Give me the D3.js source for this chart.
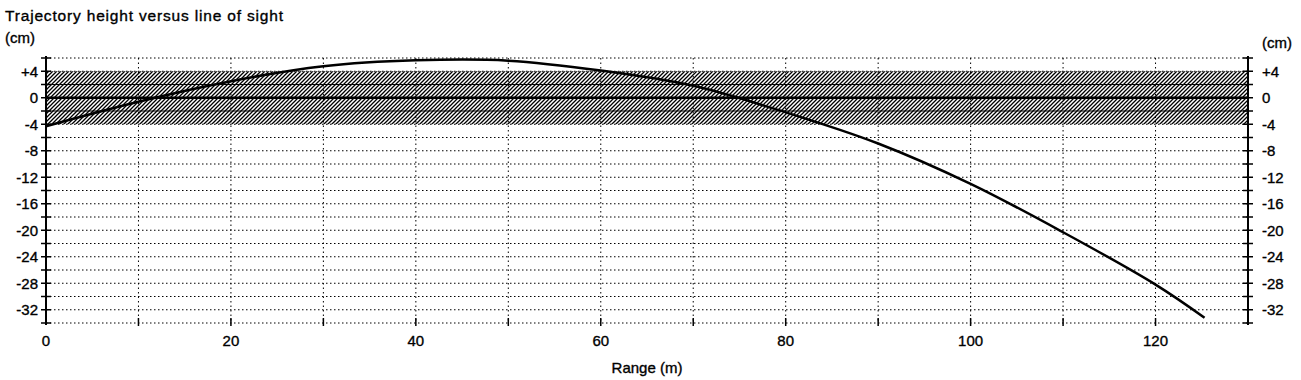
<!DOCTYPE html>
<html>
<head>
<meta charset="utf-8">
<script src="https://cdn.jsdelivr.net/npm/d3@7"></script>
<style>
    body { margin: 0; background: #fff; }
    svg { display: block; font-family: "Liberation Sans", Arial, sans-serif; }
    /* the scanned original has heavy, slightly blurred type */
    .label { fill: #000; stroke: #000; stroke-width: 0.35px; font-size: 15px; }
</style>
</head>
<body>
<div id="chart"></div>
<script>
// Trajectory values (range in m, height in cm)
const rangeValues = [0, 10, 20, 30, 40, 50, 60, 70, 80, 90, 100, 110, 120, 125.3];
const heightValues = [-4.3, -0.6, 2.5, 4.75, 5.65, 5.6, 4.1, 1.8, -2.2, -6.9, -13.0, -20.3, -28.2, -33.2];

// Tick labels
const xTickLabels = [0, 20, 40, 60, 80, 100, 120];
const yTickLabels = [4, 0, -4, -8, -12, -16, -20, -24, -28, -32];

// Tolerance band around the line of sight
const bandLimits = [4, -4];

const width = 1301;
const height = 380;

const svg = d3.select('#chart')
    .append('svg')
    .attr('width', width)
    .attr('height', height);

// Scales
const x = d3.scaleLinear().domain([0, 130]).range([46, 1248]);
const y = d3.scaleLinear().domain([6, -34]).range([58, 323]);

// Hatch pattern for the band
const defs = svg.append('defs');
defs.append('pattern')
    .attr('id', 'hatch')
    .attr('patternUnits', 'userSpaceOnUse')
    .attr('width', 4)
    .attr('height', 4)
    .append('path')
    .attr('d', 'M-1,1 l2,-2 M0,4 l4,-4 M3,5 l2,-2')
    .attr('stroke', '#000')
    .attr('stroke-width', 1.3);

svg.append('rect')
    .attr('x', x(0))
    .attr('y', y(bandLimits[0]))
    .attr('width', x(130) - x(0))
    .attr('height', y(bandLimits[1]) - y(bandLimits[0]))
    .attr('fill', 'url(#hatch)');

// Dotted grid
const grid = svg.append('g').attr('class', 'grid');
const yGridValues = d3.range(6, -35, -2);
const xGridValues = d3.range(10, 130, 10);

grid.selectAll('line.h')
    .data(yGridValues.filter(v => v !== 0 && Math.abs(v) !== 2))
    .enter()
    .append('line')
    .attr('class', 'h')
    .attr('x1', x(0))
    .attr('x2', x(130))
    .attr('y1', d => y(d))
    .attr('y2', d => y(d))
    .attr('stroke', '#000')
    .attr('stroke-width', 1)
    .attr('stroke-dasharray', '1.5,2.5');

// Inside the band the +2 / -2 lines read as solid
grid.selectAll('line.hb')
    .data([2, -2])
    .enter()
    .append('line')
    .attr('class', 'hb')
    .attr('x1', x(0))
    .attr('x2', x(130))
    .attr('y1', d => y(d))
    .attr('y2', d => y(d))
    .attr('stroke', '#000')
    .attr('stroke-width', 1);

grid.selectAll('line.v')
    .data(xGridValues)
    .enter()
    .append('line')
    .attr('class', 'v')
    .attr('x1', d => x(d))
    .attr('x2', d => x(d))
    .attr('y1', y(6))
    .attr('y2', y(-34))
    .attr('stroke', '#000')
    .attr('stroke-width', 1)
    .attr('stroke-dasharray', '1.5,3');

// Line of sight
svg.append('line')
    .attr('x1', x(0))
    .attr('x2', x(130))
    .attr('y1', y(0))
    .attr('y2', y(0))
    .attr('stroke', '#000')
    .attr('stroke-width', 2.5);

// Vertical axes on both sides, ticks every 2 cm crossing the line
function drawYAxis(xPos, labelSide) {
    const g = svg.append('g')
        .attr('transform', `translate(${xPos},0)`);

    g.append('line')
        .attr('y1', y(6) - 2)
        .attr('y2', y(-34) + 2)
        .attr('stroke', '#000')
        .attr('stroke-width', 2);

    g.selectAll('line.tick')
        .data(yGridValues)
        .enter()
        .append('line')
        .attr('class', 'tick')
        .attr('x1', -5)
        .attr('x2', 5)
        .attr('y1', d => y(d))
        .attr('y2', d => y(d))
        .attr('stroke', '#000')
        .attr('stroke-width', 1.5);

    g.selectAll('text')
        .data(yTickLabels)
        .enter()
        .append('text')
        .attr('class', 'label')
        .attr('x', labelSide === 'left' ? -8 : 14)
        .attr('y', d => y(d))
        .attr('dy', '0.36em')
        .attr('text-anchor', labelSide === 'left' ? 'end' : 'start')
        .text(d => d > 0 ? `+${d}` : `${d}`);
}

drawYAxis(x(0), 'left');
drawYAxis(x(130), 'right');

// Bottom ticks every 10 m
svg.append('g')
    .selectAll('line')
    .data(d3.range(10, 130, 10))
    .enter()
    .append('line')
    .attr('x1', d => x(d))
    .attr('x2', d => x(d))
    .attr('y1', y(-34) - 5)
    .attr('y2', y(-34) + 3)
    .attr('stroke', '#000')
    .attr('stroke-width', 1.5);

svg.append('g')
    .selectAll('text')
    .data(xTickLabels)
    .enter()
    .append('text')
    .attr('class', 'label')
    .attr('x', d => x(d))
    .attr('y', 346)
    .attr('text-anchor', 'middle')
    .text(d => d);

// Trajectory curve
const trajectory = rangeValues.map((r, i) => ({ range: r, h: heightValues[i] }));

svg.append('path')
    .datum(trajectory)
    .attr('fill', 'none')
    .attr('stroke', '#000')
    .attr('stroke-width', 2.5)
    .attr('d', d3.line()
        .x(d => x(d.range))
        .y(d => y(d.h))
        .curve(d3.curveCatmullRom));

// Titles
svg.append('text')
    .attr('class', 'label')
    .attr('x', 5)
    .attr('y', 21)
    .attr('textLength', 278)
    .style('font-size', '15.5px')
    .text('Trajectory height versus line of sight');

svg.append('text')
    .attr('class', 'label')
    .attr('x', 5)
    .attr('y', 43)
    .style('font-size', '15px')
    .text('(cm)');

svg.append('text')
    .attr('class', 'label')
    .attr('x', 1262)
    .attr('y', 48)
    .style('font-size', '15px')
    .text('(cm)');

svg.append('text')
    .attr('class', 'label')
    .attr('x', 647)
    .attr('y', 373)
    .attr('text-anchor', 'middle')
    .text('Range (m)');
</script>
</body>
</html>
